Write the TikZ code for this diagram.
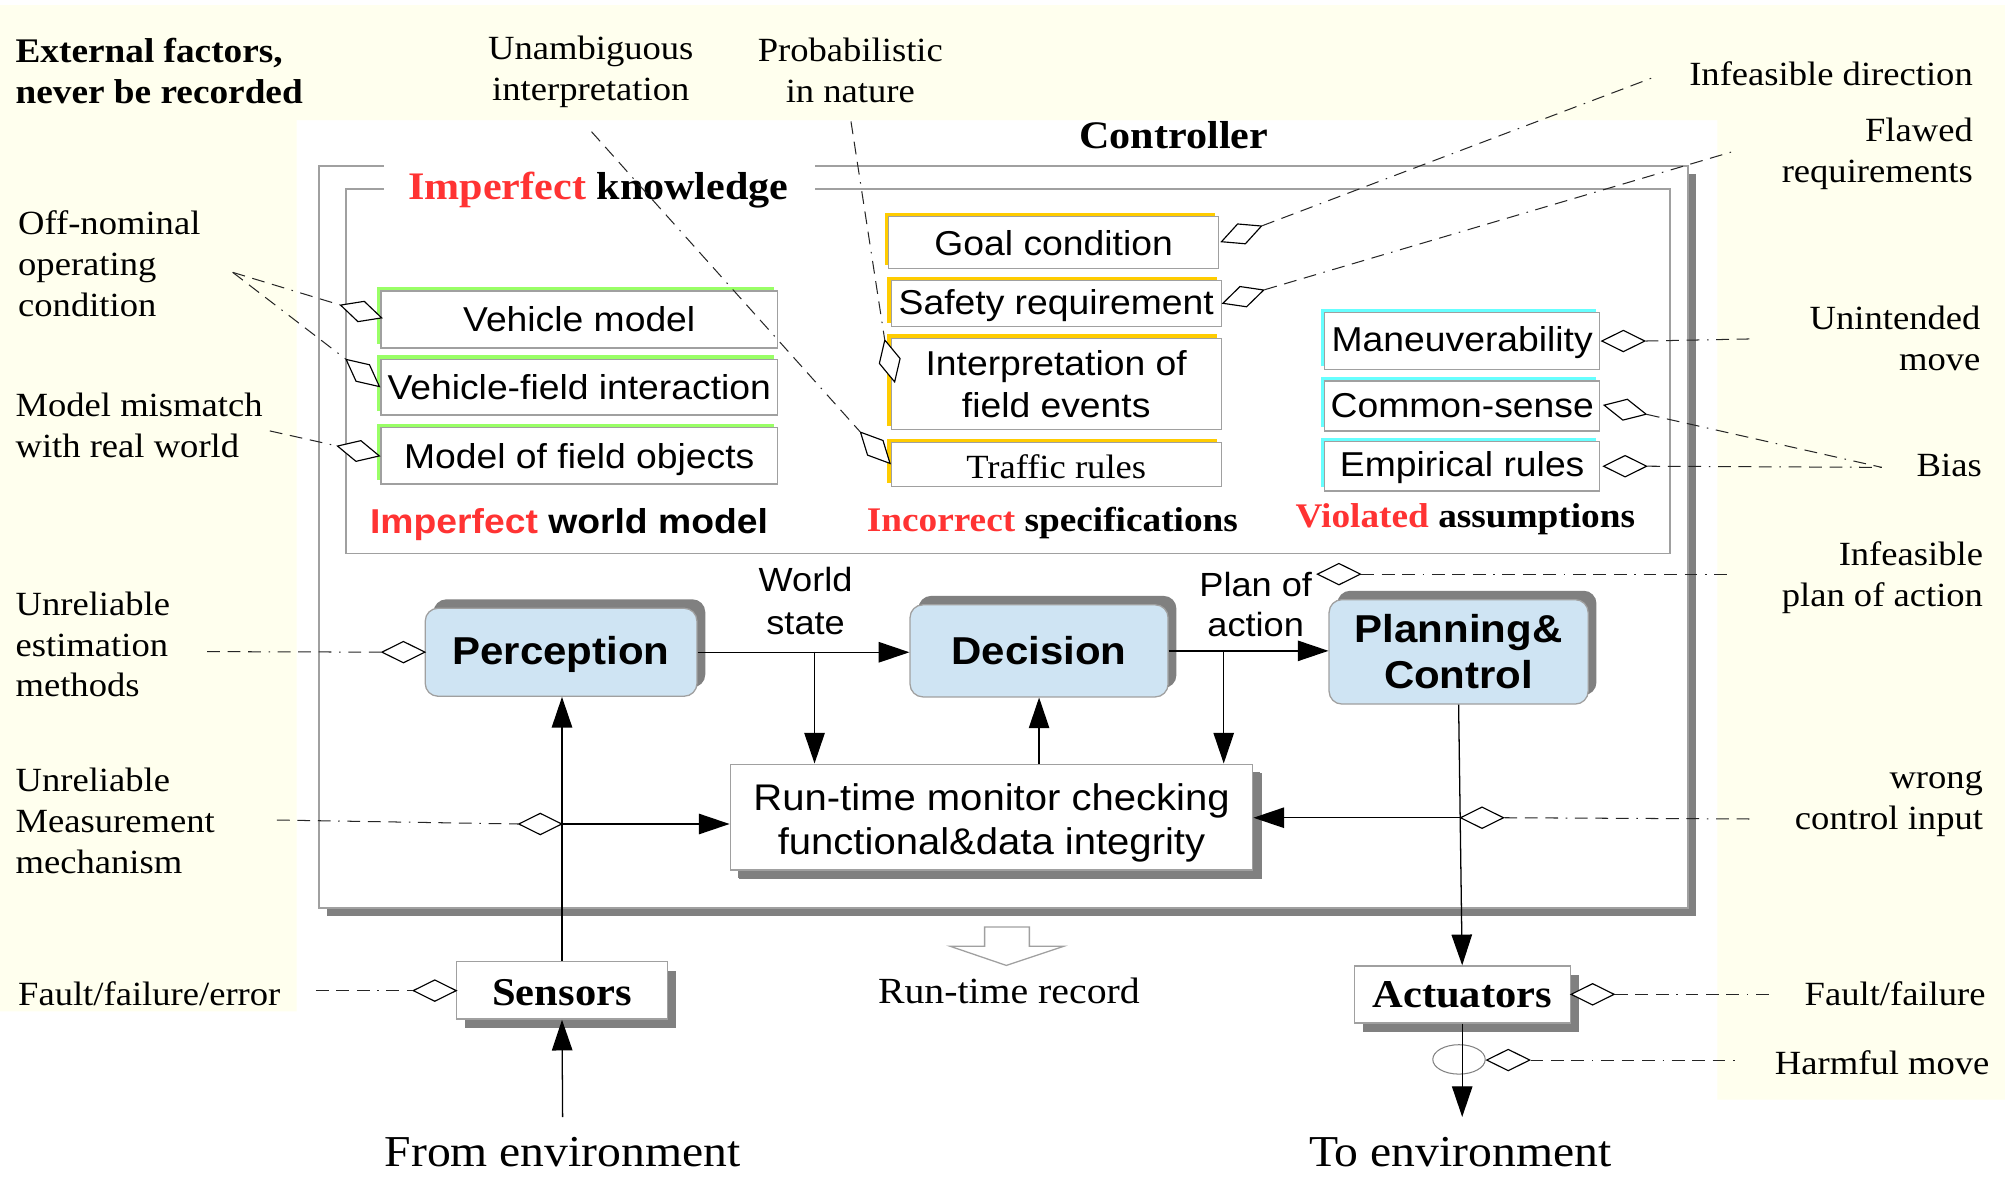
\documentclass[tikz,border=0pt]{standalone}
\usepackage{fontspec}
\setmainfont{Liberation Serif}[FakeStretch=1.08]
\setsansfont{Liberation Sans}[FakeStretch=1.08]
\usetikzlibrary{arrows.meta,shapes.geometric,shadows,calc}

\definecolor{paper}{RGB}{255,255,238}
\definecolor{lgreen}{RGB}{153,255,102}
\definecolor{lyellow}{RGB}{255,204,0}
\definecolor{lcyan}{RGB}{102,255,255}
\definecolor{hotred}{RGB}{255,51,51}
\definecolor{edge}{RGB}{160,160,160}
\definecolor{dropgray}{RGB}{128,128,128}
\definecolor{procfill}{RGB}{207,228,243}

\newcommand{\fs}[2]{\fontsize{#1}{#2}\selectfont}

\begin{document}
\begin{tikzpicture}[x=1pt,y=-1pt,
  lbl/.style={inner sep=0pt, font=\fs{26.5}{32}},
  item/.style={draw=edge, line width=1pt, fill=white, inner sep=0pt,
    font=\sffamily\fs{27}{33}, align=center},
  wm/.style={item, general shadow={fill=lgreen, draw=none, shadow xshift=-3pt, shadow yshift=3pt}},
  spec/.style={item, general shadow={fill=lyellow, draw=none, shadow xshift=-3pt, shadow yshift=3pt}},
  asm/.style={item, general shadow={fill=lcyan, draw=none, shadow xshift=-3pt, shadow yshift=3pt}},
  proc/.style={draw=edge, line width=1pt, fill=procfill, rounded corners=10pt, inner sep=0pt,
    font=\sffamily\bfseries\fs{30.4}{36}, align=center,
    general shadow={fill=dropgray, draw=none, shadow xshift=6.5pt, shadow yshift=7pt}},
  plainbox/.style={draw=edge, line width=1pt, fill=white, inner sep=0pt,
    general shadow={fill=dropgray, draw=none, shadow xshift=7pt, shadow yshift=-7pt}},
  dia/.style={shape=diamond, draw=black, fill=white, line width=0.9pt,
    minimum width=34pt, minimum height=17pt, inner sep=0pt},
  dd/.style={line width=0.8pt, black!85,
    dash pattern=on 10pt off 6pt on 10pt off 6pt on 10pt off 6pt on 1.2pt off 6pt},
  arr/.style={line width=1pt, -{Triangle[length=24pt,width=16pt]}},
  ttl/.style={inner sep=0pt, font=\bfseries\fs{30.5}{36}}
]
\useasboundingbox (0,0) rectangle (1568,920);
\fill[white] (0,0) rectangle (1568,920);
% pale background around the controller
\fill[paper] (0,4) -- (1568,4) -- (1568,860) -- (1343,860) -- (1343,94)
  -- (232,94) -- (232,791) -- (0,791) -- cycle;

% controller frame with its shadow, and the knowledge frame
\fill[dropgray] (255.5,136) rectangle (1326,716);
\fill[white] (249.5,130) rectangle (1320,710);
\draw[edge, line width=1.2pt] (300,130) -- (249.5,130) -- (249.5,710) -- (1320,710) -- (1320,130) -- (637,130);
\draw[edge, line width=1.2pt] (300,148) -- (270.5,148) -- (270.5,433) -- (1306,433) -- (1306,148) -- (637,148);

\node[ttl] (ctrl) at (918,106) {Controller};
\node[ttl] (know) at (468,149) {\textcolor{hotred}{Imperfect} knowledge};

% world model
\node[wm, minimum width=310pt, minimum height=44.5pt] (vm) at (453,249.8) {Vehicle model};
\node[wm, minimum width=310pt, minimum height=43.6pt] (vfi) at (453,302.8) {Vehicle-field interaction};
\node[wm, minimum width=310pt, minimum height=44pt] (mfo) at (453,356.5) {\rule{0pt}{26pt}Model of field objects};
\node[inner sep=0pt, font=\sffamily\bfseries\fs{27}{32}] (wml) at (445,410) {\textcolor{hotred}{Imperfect} world model};

% specifications
\node[spec, minimum width=258pt, minimum height=40.5pt] (goal) at (824,189.8) {Goal condition};
\node[spec, minimum width=258pt, minimum height=36pt] (safe) at (826,237.5) {\rule{0pt}{22pt}Safety requirement};
\node[spec, minimum width=258pt, minimum height=71.5pt] (intp) at (826,300.3) {Interpretation of\\field events};
\node[spec, minimum width=258pt, minimum height=34.6pt, font=\fs{26.5}{32}] (traf) at (826,363.3) {\rule{0pt}{22pt}Traffic rules};
\node[inner sep=0pt, font=\bfseries\fs{27}{32}] (isl) at (823,409) {\textcolor{hotred}{Incorrect} specifications};

% assumptions
\node[asm, minimum width=215pt, minimum height=44.5pt] (man) at (1143.5,266.8) {\rule{0pt}{22pt}Maneuverability};
\node[asm, minimum width=215pt, minimum height=39pt] (cs) at (1143.5,317.5) {Common-sense};
\node[asm, minimum width=215pt, minimum height=38.5pt] (er) at (1143.5,364.8) {\rule{0pt}{22pt}Empirical rules};
\node[inner sep=0pt, font=\bfseries\fs{27}{32}] (val) at (1146,406) {\textcolor{hotred}{Violated} assumptions};

% processing chain
\node[proc, minimum width=212.5pt, minimum height=68.8pt] (perc) at (438.8,510.1) {\rule{0pt}{25pt}Perception};
\node[proc, minimum width=201.8pt, minimum height=72pt] (dec) at (812.6,509) {Decision};
\node[proc, minimum width=202.6pt, minimum height=81.6pt] (plan) at (1140.7,509.8) {Planning\&\\Control};
\node[plainbox, minimum width=408.7pt, minimum height=82.8pt, align=center,
  font=\sffamily\fs{29}{35}, general shadow={fill=dropgray, draw=none, shadow xshift=6pt, shadow yshift=-6.5pt}]
  (mon) at (775.4,639) {\rule{0pt}{30pt}Run-time monitor checking\\functional\&data integrity};
\node[plainbox, minimum width=165pt, minimum height=45pt, font=\bfseries\fs{30.8}{36}] (sens) at (439.5,774.5) {\rule{0pt}{24pt}Sensors};
\node[plainbox, minimum width=169pt, minimum height=44.6pt, font=\bfseries\fs{30.8}{36}] (act) at (1143.5,777.7) {Actuators};

% run-time record outline arrow
\draw[edge, line width=1pt, fill=white] (770,725) -- (805,725) -- (805,740) -- (832,740)
  -- (787,755) -- (743,740) -- (770,740) -- cycle;

% harmful-move marker
\node[ellipse, draw=dropgray, line width=0.8pt, minimum width=41pt, minimum height=23pt, inner sep=0pt] (hm) at (1141,828.5) {};

% signal flow
\coordinate (ws) at (637,509.6);
\coordinate (pa) at (957,509);
\coordinate (jm) at (439.5,644.4);
\coordinate (jc) at (1142,639.5);
\coordinate (fromenv) at (440,873.6);
\coordinate (toenv) at (1143.5,873.5);
\draw[arr] (perc.east) -- (perc.east -| dec.west);
\draw[arr] (dec.east) -- (dec.east -| plan.west);
\draw[arr] (ws) -- (ws |- mon.north);
\draw[arr] (pa) -- (pa |- mon.north);
\draw[arr] (mon.north -| dec.south) -- (dec.south);
\draw[arr] (sens.north) -- (sens.north |- perc.south);
\draw[arr] (jm) -- (jm -| mon.west);
\draw[arr] (plan.south) -- (act.north);
\draw[arr] (jc) -- (jc -| mon.east);
\draw[arr] (fromenv) -- (sens.south);
\draw[arr] (act.south) -- (toenv);

% aggregation diamonds
\node[dia, rotate=-17.3] (dvm) at (282.4,243.6) {};
\node[dia, rotate=-39.2] (dvfi) at (283.7,291.7) {};
\node[dia, rotate=-13.3] (dmfo) at (280.3,352.7) {};
\node[dia, rotate=-46.6] (dtr) at (684.5,350.2) {};
\node[dia, rotate=-76.8] (dint) at (695.8,282.3) {};
\node[dia, rotate=21.4] (dgoal) at (970.9,182.9) {};
\node[dia, rotate=18] (dsafe) at (972.3,232) {};
\node[dia] (dman) at (1269.5,266.7) {};
\node[dia, rotate=-12.2] (dcs) at (1270.9,320.4) {};
\node[dia] (der) at (1270.9,364.6) {};
\node[dia] (dplan) at (1047.1,449) {};
\node[dia] (dperc) at (315.5,510) {};
\node[dia] (dmeas) at (422.5,644.4) {};
\node[dia] (dctl) at (1159,639.5) {};
\node[dia] (dsens) at (340,774.7) {};
\node[dia] (dact) at (1245.5,777.6) {};
\node[dia] (dharm) at (1179.5,829) {};

% dash-dot leaders
\coordinate (offn) at (182,213);
\coordinate (mism) at (211,337);
\coordinate (unam) at (462.6,103);
\coordinate (prob) at (665.5,95);
\coordinate (infd) at (1296,59.4);
\coordinate (flaw) at (1355,118.6);
\coordinate (unin) at (1372,265);
\coordinate (bias) at (1471.6,365.5);
\coordinate (infp) at (1355,449);
\coordinate (estm) at (162,509.6);
\coordinate (meas) at (216.5,641.3);
\coordinate (wci) at (1371,640.5);
\coordinate (ffe) at (247,774.7);
\coordinate (ffa) at (1383.5,777.6);
\coordinate (harm) at (1358.5,829);
\draw[dd] (offn) -- (dvm.west);
\draw[dd] (offn) -- (dvfi.west);
\draw[dd] (mism) -- (dmfo.west);
\draw[dd] (unam) -- (dtr.west);
\draw[dd] (prob) -- (dint.west);
\draw[dd] (dgoal.east) -- (infd);
\draw[dd] (dsafe.east) -- (flaw);
\draw[dd] (dman.east) -- (unin);
\draw[dd] (dcs.east) -- (bias);
\draw[dd] (der.east) -- (bias);
\draw[dd] (dplan.east) -- (infp);
\draw[dd] (estm) -- (dperc.west);
\draw[dd] (meas) -- (dmeas.west);
\draw[dd] (dctl.east) -- (wci);
\draw[dd] (ffe) -- (dsens.west);
\draw[dd] (dact.east) -- (ffa);
\draw[dd] (dharm.east) -- (harm);

% labels
\node[lbl, font=\bfseries\fs{27}{32}, anchor=west, align=left] (ext) at (12,55.5) {External factors,\\never be recorded};
\node[lbl, align=center] (unamb) at (462,56) {Unambiguous\\interpretation};
\node[lbl, align=center] (probl) at (665,55) {Probabilistic\\in nature};
\node[lbl, anchor=east] (infdl) at (1543,58) {Infeasible direction};
\node[lbl, anchor=east, align=right] (flawl) at (1543,120) {Flawed\\requirements};
\node[lbl, anchor=west, align=left] (offl) at (14,206) {Off-nominal\\operating\\condition};
\node[lbl, anchor=west, align=left] (misl) at (12,333) {Model mismatch\\with real world};
\node[lbl, anchor=west, align=left] (estl) at (12,504) {Unreliable\\estimation\\methods};
\node[lbl, anchor=west, align=left] (measl) at (12,642) {Unreliable\\Measurement\\mechanism};
\node[lbl, anchor=west] (ffel) at (14,777) {Fault/failure/error};
\node[lbl, anchor=east, align=right] (uninl) at (1549,265) {Unintended\\move};
\node[lbl, anchor=east] (biasl) at (1550,364) {Bias};
\node[lbl, anchor=east, align=right] (infpl) at (1551,452) {Infeasible\\plan of action};
\node[lbl, anchor=east, align=right] (wcil) at (1551,629) {wrong\\control input};
\node[lbl, anchor=east] (ffal) at (1553,777) {Fault/failure};
\node[lbl, anchor=east] (harml) at (1556,831) {Harmful move};
\node[lbl, font=\fs{34.5}{40}] (fenv) at (440,901) {From environment};
\node[lbl, font=\fs{34.5}{40}] (tenv) at (1142,901) {To environment};
\node[lbl, font=\fs{28.8}{34}] (rec) at (789,775) {Run-time record};
\node[lbl, font=\sffamily\fs{26.2}{33}, align=center] (wsl) at (630,470) {World\\state};
\node[lbl, font=\sffamily\fs{26.2}{31}, align=center] (pal) at (982,473) {Plan of\\action};
\end{tikzpicture}
\end{document}
